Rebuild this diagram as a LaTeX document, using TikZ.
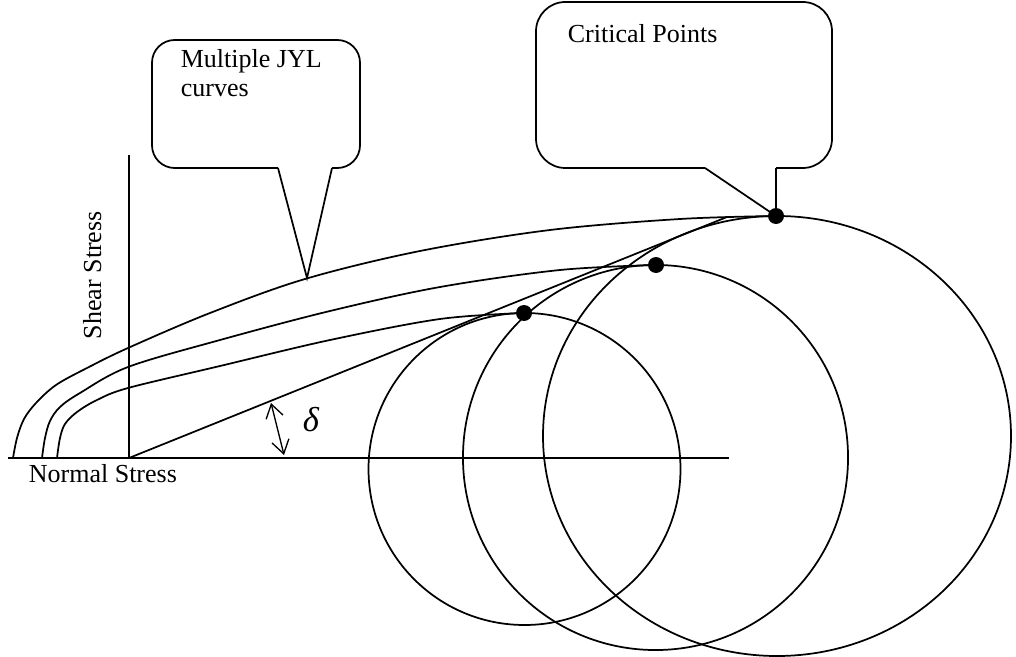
\documentclass[tikz,border=0pt]{standalone}
\usepackage{fontspec}
\setmainfont{Liberation Serif}
\usetikzlibrary{arrows.meta}

\begin{document}
\begin{tikzpicture}[x=0.75pt,y=-0.75pt,line width=1.3pt]
	\tikzstyle{stresslabel} = [inner sep=0pt,font=\fontsize{19.5}{21.75}\selectfont]
	\tikzstyle{jyl} = [smooth,tension=0.55]
	\tikzstyle{bubble} = [rounded corners=17pt]
	\useasboundingbox (0,0) rectangle (1016,656);
	% axes
	\coordinate (xstart) at (8,458);
	\coordinate (xend) at (729,458);
	\coordinate (origin) at (129,458);
	\coordinate (ytop) at (129,155);
	\draw (xstart) -- (xend);
	\draw (origin) -- (ytop);
	\node[stresslabel,anchor=base west] (normal) at (28,482) {Normal Stress};
	\node[stresslabel,anchor=base west,rotate=90] (shear) at (101,340) {Shear Stress};
	% critical points
	\coordinate (crit1) at (524,313);
	\coordinate (crit2) at (656,265);
	\coordinate (crit3) at (776,216);
	% mohr circles
	\draw (524.5,469) circle (117pt);
	\draw (655.5,457.5) circle (144.4pt);
	\draw (777,436) ellipse (175.5pt and 165pt);
	% yield line through the origin
	\coordinate (lineend) at (727,217);
	\draw (origin) -- (lineend);
	% jyl curves
	\draw[jyl] plot coordinates {(13,458) (17,438) (24,419) (36,403) (56,385) (87,368) (128,348) (210,313) (305,279) (420,251) (550,230) (680,219) (crit3)};
	\draw[jyl] plot coordinates {(42,458) (45,438) (50,421) (60,407) (80,393) (128,367) (220,340) (330,311) (440,287) (560,270) (crit2)};
	\draw[jyl] plot coordinates {(57,458) (60,438) (65,424) (77,412) (97,400) (128,388) (220,366) (330,340) (440,319) (crit1)};
	\foreach \c in {crit1,crit2,crit3}
		\fill (\c) circle (6pt);
	% angle delta
	\coordinate (dtop) at (271,403);
	\coordinate (dbot) at (284,455);
	\draw[line width=1pt,{Straight Barb[length=10pt,width=13pt]}-{Straight Barb[length=10pt,width=13pt]}] (dtop) -- (dbot);
	\node[inner sep=0pt,font=\fontsize{26}{28}\selectfont\itshape] (delta) at (311,420) {δ};
	% callout for the curves
	\coordinate (jyltip) at (307,278);
	\draw[bubble] (332,168) -| (360,40) -| (152,168) -- (278,168);
	\draw (278,168) -- (jyltip) -- (332,168);
	\node[stresslabel,anchor=north west,align=left] (jyltext) at (180,49) {Multiple JYL\\curves};
	% callout for the critical points
	\draw[bubble,rounded corners=22pt] (776,168) -| (832,2) -| (536,168) -- (705,168);
	\draw (705,168) -- (crit3) -- (776,168);
	\node[stresslabel,anchor=base west] (crittext) at (567,43) {Critical Points};
\end{tikzpicture}
\end{document}
